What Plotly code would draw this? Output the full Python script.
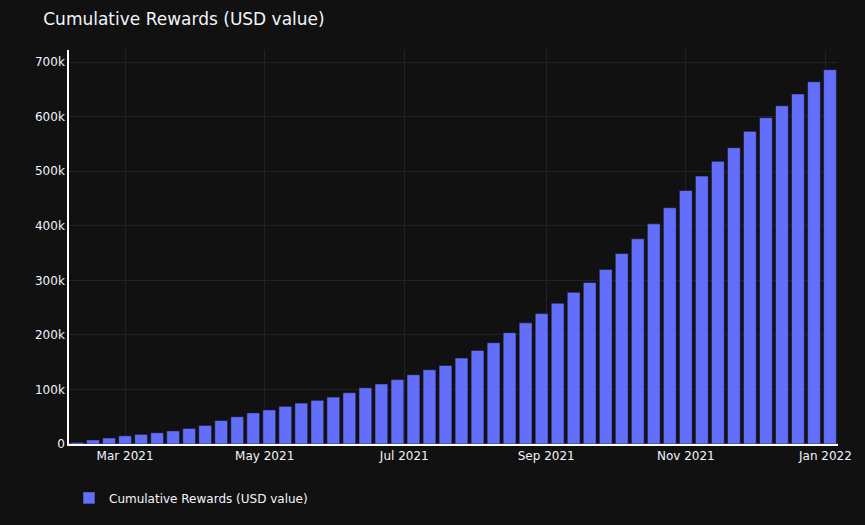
import pandas as pd
import plotly.graph_objects as go

# semanas (segunda-feira) de fev/2021 a jan/2022
datas = pd.date_range('2021-02-08', '2022-01-03', freq='7D')

# recompensas acumuladas em USD
recompensas = [
    3000, 7300, 11000, 15000, 17600, 20600, 24000, 28500, 34000, 43000,
    50000, 57000, 62400, 69000, 75000, 80000, 86000, 94000, 103000, 110000,
    118000, 127000, 136000, 144000, 157500, 171500, 185600, 204000, 222000, 239000,
    258000, 278000, 296000, 320000, 349000, 376000, 403500, 433000, 464600, 491000,
    518000, 543000, 573000, 598000, 620000, 641600, 664000, 686000,
]

nome = 'Cumulative Rewards (USD value)'

fig = go.Figure()
fig.add_trace(go.Bar(x=datas, y=recompensas, name=nome, showlegend=True))

fig.update_layout(
    template='plotly_dark',
    title=nome,
    font=dict(family='Verdana, DejaVu Sans, sans-serif'),
    width=865,
    height=525,
    margin=dict(l=69, r=27, t=50, b=81),
    legend=dict(orientation='h', x=0, y=-0.1, yanchor='top'),
)
fig.update_xaxes(showline=True, linecolor='white', linewidth=1.5,
                 layer='below traces', gridcolor='#202229')
fig.update_yaxes(showline=True, linecolor='white', linewidth=1.5,
                 gridcolor='#1e2229')

# tira a margem branca do body e a barra de ferramentas
fig.write_html("out.html", config={'displayModeBar': False},
               post_script="document.body.style.margin='0';")
